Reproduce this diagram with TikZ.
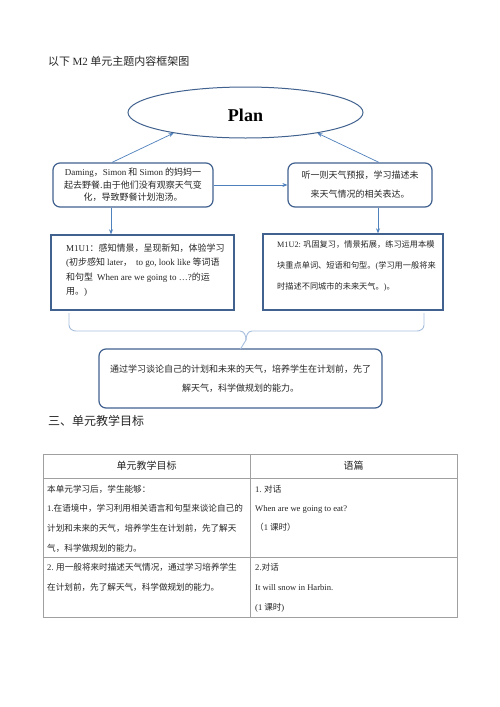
\documentclass[tikz,border=0pt]{standalone}
\usepackage{fontspec}
\setmainfont{Noto Sans CJK SC}
\newfontfamily\lat{Liberation Serif}
\usetikzlibrary{
    shapes.geometric,
    arrows.meta
}
\definecolor{boxblue}{HTML}{41628F}
\definecolor{linkblue}{HTML}{4F81BD}
\definecolor{braceblue}{HTML}{A7BEDD}
\definecolor{gridgray}{HTML}{A0A0A0}
\definecolor{ink}{HTML}{262626}
\tikzset{
    >={Stealth[length=5pt,width=4pt]},
    rbox/.style={
        draw=boxblue,
        line width=1.2pt,
        rounded corners=7pt,
        align=center,
        inner sep=0pt,
        text=ink
    },
    sbox/.style={
        draw=boxblue,
        line width=1.4pt,
        inner sep=0pt
    },
    link/.style={
        ->,
        draw=linkblue,
        line width=0.7pt
    },
    cell/.style={
        anchor=north west,
        align=left,
        inner sep=0pt,
        text=ink
    }
}

\begin{document}
\begin{tikzpicture}[
    x=1pt,
    y=-1pt
]

    \useasboundingbox[fill=white] (0,0) rectangle (500,707);

    % Titulo
    \node[anchor=west, inner sep=0pt, text=ink, font=\fontsize{11}{13}\selectfont]
        (head) at (48,61) {以下 {\lat M2} 单元主题内容框架图};

    % Nodos
    \node[ellipse, draw=boxblue, line width=1pt,
          minimum width=235, minimum height=51, inner sep=0pt,
          text height=18pt, font=\lat\bfseries\fontsize{18}{20}\selectfont]
        (plan) at (245.5,112.5) {Plan};

    \node[rbox, minimum width=160, minimum height=44,
          font=\fontsize{9}{12.5}\selectfont]
        (dm) at (133,185)
        {{\lat Daming}，{\lat Simon} 和 {\lat Simon} 的妈妈一\\
         起去野餐.由于他们没有观察天气变\\
         化，导致野餐计划泡汤。};

    \node[rbox, minimum width=144, minimum height=44,
          font=\fontsize{9}{19}\selectfont]
        (fc) at (360,185)
        {听一则天气预报，学习描述未\\来天气情况的相关表达。};

    \node[sbox, minimum width=183, minimum height=75] (u1) at (142.5,272.5) {};
    \node[cell, font=\fontsize{9}{14.5}\selectfont] (u1t) at (66,243.5)
        {{\lat M1U1}：感知情景，呈现新知，体验学习\\
         {\lat (}初步感知 {\lat later}，\ \ {\lat to go, look like} 等词语\\
         和句型\ \ {\lat When are we going to …?}的运\\
         用。{\lat )}};

    \node[sbox, minimum width=180, minimum height=76] (u2) at (353,272) {};
    \node[cell, font=\fontsize{8.2}{21}\selectfont] (u2t) at (277,240)
        {{\lat M1U2:} 巩固复习，情景拓展，练习运用本模\\
         块重点单词、短语和句型。{\lat (}学习用一般将来\\
         时描述不同城市的未来天气。{\lat )}。};

    \node[rbox, minimum width=283, minimum height=59,
          font=\fontsize{9}{19}\selectfont]
        (goal) at (240.5,378.5)
        {通过学习谈论自己的计划和未来的天气，培养学生在计划前，先了\\
         解天气，科学做规划的能力。};

    % Flechas
    \draw[link] ([xshift=-21pt]dm.north) -- (plan.196);
    \draw[link] ([xshift=19pt]fc.north) -- (plan.344);
    \draw[link] (dm.east) -- (fc.west);
    \draw[link] ([xshift=-22pt]dm.south) -- ([xshift=-22pt]dm.south |- u1.north);
    \draw[link] ([xshift=18pt]fc.south) -- ([xshift=18pt]fc.south |- u2.north);

    % Llave
    \draw[braceblue, line width=0.9pt]
        (69,313) -- (69,325) to[out=-90,in=180] (76,331) -- (240,331)
        to[out=0,in=90] (246,340) -- (246,349 -| goal.north);
    \draw[braceblue, line width=0.9pt]
        (246,340) to[out=90,in=180] (252,331) -- (417,331)
        to[out=0,in=-90] (424,325) -- (424,313);

    % Seccion
    \node[anchor=west, inner sep=0pt, text=ink, font=\fontsize{12}{14}\selectfont]
        (sec) at (48,421) {三、单元教学目标};

    % Tabla
    \draw[gridgray, line width=1pt] (43,454) rectangle (457,617);
    \draw[gridgray, line width=1pt] (43,478) -- (457,478);
    \draw[gridgray, line width=1pt] (43,557) -- (457,557);
    \draw[gridgray, line width=1pt] (250,454) -- (250,617);

    \node[inner sep=0pt, text=ink, font=\fontsize{10}{12}\selectfont]
        (h1) at (146.5,466) {单元教学目标};
    \node[inner sep=0pt, text=ink, font=\fontsize{10}{12}\selectfont]
        (h2) at (353.5,466) {语篇};

    \node[cell, font=\fontsize{8.6}{19.7}\selectfont] (a1) at (47,484.7)
        {本单元学习后，学生能够：\\
         {\lat 1.}在语境中，学习利用相关语言和句型来谈论自己的\\
         计划和未来的天气，培养学生在计划前，先了解天\\
         气，科学做规划的能力。};
    \node[cell, font=\fontsize{8.6}{19}\selectfont] (b1) at (255,484.7)
        {{\lat 1.} 对话\\
         {\lat When are we going to eat?}\\
         （{\lat 1} 课时）};

    \node[cell, font=\fontsize{8.6}{20}\selectfont] (a2) at (47,562.7)
        {{\lat 2.} 用一般将来时描述天气情况，通过学习培养学生\\
         在计划前，先了解天气，科学做规划的能力。};
    \node[cell, font=\fontsize{8.6}{20}\selectfont] (b2) at (255,562.7)
        {{\lat 2.}对话\\
         {\lat It will snow in Harbin.}\\
         {\lat (1} 课时{\lat )}};

\end{tikzpicture}
\end{document}
